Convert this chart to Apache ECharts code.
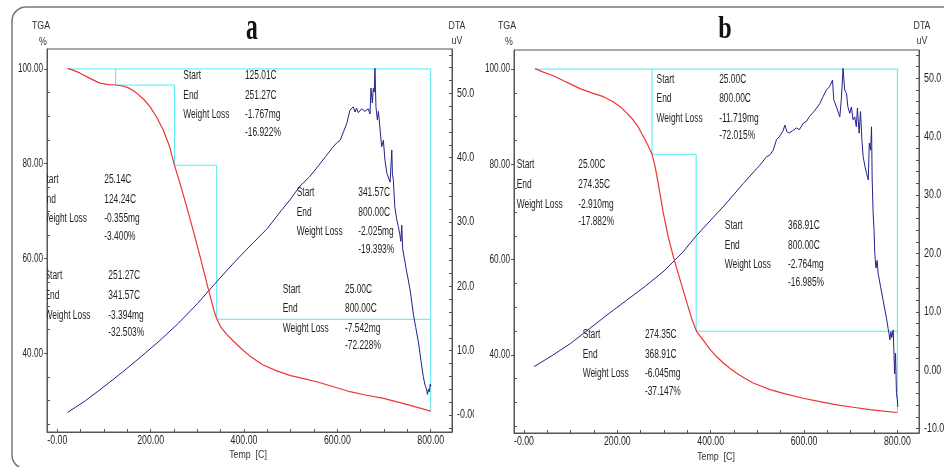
<!DOCTYPE html>
<html>
<head>
<meta charset="utf-8">
<script src="https://cdn.jsdelivr.net/npm/echarts@6/dist/echarts.min.js"></script>
<style>
html,body{margin:0;padding:0;background:#fff;}
#chart{width:944px;height:467px;}
</style>
</head>
<body>
<div id="chart"></div>
<script>
var FONT = '"Liberation Sans", Arial, sans-serif';

// axis ticks / labels
var tempLabels = [0, 200, 400, 600, 800];
var tempTicks = [0, 50, 100, 150, 200, 250, 300, 350, 400, 450, 500, 550, 600, 650, 700, 750, 800];
var tgaLabels = [40, 60, 80, 100];
var tgaMinor = [25, 30, 35, 45, 50, 55, 65, 70, 75, 85, 90, 95];
var dtaLabelsA = [0, 10, 20, 30, 40, 50];
var dtaTicksA = [-2, 0, 2, 4, 6, 8, 10, 12, 14, 16, 18, 20, 22, 24, 26, 28, 30, 32, 34, 36, 38, 40, 42, 44, 46, 48, 50, 52, 54, 56];
var dtaLabelsB = [-10, 0, 10, 20, 30, 40, 50];
var dtaTicksB = [-10, -8, -6, -4, -2, 0, 2, 4, 6, 8, 10, 12, 14, 16, 18, 20, 22, 24, 26, 28, 30, 32, 34, 36, 38, 40, 42, 44, 46, 48, 50, 52, 54];

// sample a : TGA (%) vs temp (C)
var tgaA = [[22,100.1],[35,99.7],[49,99.1],[70,98.0],[91,97.0],[110,96.7],[125,96.6],[140,96.4],[150,96.1],[160,95.6],[170,94.9],[185,93.6],[199,92.0],[213,89.8],[227,87.1],[240,83.8],[251,79.7],[264,75.5],[277,71.0],[291,66.0],[306,60.4],[324,53.4],[337,48.6],[342,47.2],[350,45.6],[362,44.1],[377,42.6],[395,40.9],[413,39.4],[440,37.6],[470,36.3],[500,35.3],[530,34.6],[556,34.0],[590,33.0],[627,31.9],[660,31.2],[699,30.5],[730,29.7],[760,28.9],[800,27.8]];
// sample a : DTA (uV)
var dtaA = [[22,0.4],[60,2.2],[100,4.4],[140,6.7],[180,9.1],[220,11.6],[260,14.3],[300,17.3],[340,20.6],[380,23.8],[420,26.8],[450,29.0],[480,31.8],[500,33.6],[520,35.6],[540,37.0],[560,38.8],[575,40.2],[590,41.6],[600,42.4],[606,42.7],[613,44.0],[620,45.3],[627,47.4],[634,47.9],[638,47.1],[641,47.7],[645,47.0],[648.5,46.9],[652,47.6],[655.6,47.9],[659,47.2],[663,47.1],[666,47.6],[668.3,47.9],[670,46.8],[672,50.8],[675,48.5],[677,50.8],[679,50.2],[680.6,53.9],[682.7,47.9],[685.7,45.9],[688,47.2],[690,46.9],[692,44.0],[695,41.7],[698.6,42.7],[702,39.6],[706,37.6],[709,37.8],[713,36.2],[716.6,41.2],[718,37.5],[720,36.5],[723,32.4],[727,30.5],[730.6,29.3],[734,28.0],[736,27.0],[738,29.5],[740,25.8],[748,22.5],[756,19.4],[763,15.6],[768,13.6],[774,11.2],[779,8.5],[784,6.0],[788,4.6],[791.5,3.9],[793,3.2],[795,4.0],[797,3.6],[799,4.8],[800.5,4.5]];
// sample a : analysis steps (temp, TGA)
var frameA = [[25,100],[800,100],[800,27.78]];
var stepsA = [[125.01,100],[125.01,96.6],[251.27,96.6],[251.27,79.68],[341.57,79.68],[341.57,47.18],[800,47.18]];

// sample b
var tgaB = [[23.5,100.1],[40,99.4],[63,98.6],[90,97.3],[120,95.9],[145,95.0],[170,94.2],[190,93.2],[206,92.1],[220,90.8],[234,89.3],[245,87.8],[256,85.8],[265,84.1],[274.35,82.1],[281,79.5],[289,75.2],[298,70.0],[309,64.8],[320,60.6],[331,56.9],[341,53.6],[350,50.6],[359,47.7],[365,46.1],[370,44.9],[384,43.1],[398,41.2],[412,39.7],[427,38.3],[441,37.2],[455,36.2],[473,35.1],[491,34.1],[509,33.4],[527,32.7],[560,31.8],[598,30.9],[634,30.2],[670,29.5],[705,29.0],[741,28.5],[770,28.2],[800,27.9]];
var dtaB = [[21.4,0.6],[60,2.5],[100,4.6],[140,7.1],[180,9.6],[220,12.0],[260,14.4],[300,17.0],[340,20.2],[370,23.1],[400,25.7],[430,28.3],[470,32.0],[505,35.1],[520,36.6],[526,36.8],[534,37.7],[541,39.5],[548,40.1],[555,41.0],[559,42.0],[563,40.9],[568,40.6],[575,41.0],[584,41.5],[590,41.2],[598,42.3],[605,42.6],[612,43.5],[620,44.2],[627,44.9],[634,45.7],[641,46.9],[648,48.0],[655,48.6],[661,49.7],[663.7,46.3],[669.5,45.1],[676.6,43.4],[680,46.5],[683.6,51.7],[687,48.0],[691,47.4],[694,45.1],[698,44.0],[701.5,45.1],[705,42.9],[708.6,43.4],[712,41.7],[714.4,44.9],[718,40.6],[721,44.3],[724,39.4],[726.6,36.6],[730.6,34.9],[734,33.7],[737.6,32.6],[739.8,38.9],[742.6,37.7],[744.6,41.7],[746,32.6],[748,27.0],[750,24.0],[751.6,20.0],[754,17.5],[756.6,18.8],[758.7,16.6],[764,14.3],[769.4,12.0],[776.7,8.9],[780,7.2],[782,6.3],[784,5.2],[786,6.6],[788,5.6],[791,6.9],[792.5,3.4],[794,-0.6],[796,2.9],[798,-4.0],[800,-5.1],[801,-6.3]];
var frameB = [[25,100],[800,100],[800,27.99]];
var stepsB = [[274.35,100],[274.35,82.118],[368.91,82.118],[368.91,44.971],[800,44.971]];

// analysis result blocks: label column x, value column x, first row y (temp, TGA units)
var rowNames = ['Start', 'End', 'Weight Loss'];
var rowGap = [0, 19.6, 39.2, 56.8];
var annoA = [
  {lx: 270, vx: 402, y: 98.52, values: ['125.01C', '251.27C', '-1.767mg', '-16.922%']},
  {lx: -35, vx: 100.7, y: 76.57, values: ['25.14C', '124.24C', '-0.355mg', '-3.400%']},
  {lx: -27.4, vx: 109.3, y: 56.31, values: ['251.27C', '341.57C', '-3.394mg', '-32.503%']},
  {lx: 512.9, vx: 644.8, y: 73.89, values: ['341.57C', '800.00C', '-2.025mg', '-19.393%']},
  {lx: 482.9, vx: 616.3, y: 53.5, values: ['25.00C', '800.00C', '-7.542mg', '-72.228%']}
];
var annoB = [
  {lx: 284.1, vx: 418.1, y: 97.84, values: ['25.00C', '800.00C', '-11.719mg', '-72.015%']},
  {lx: -15.6, vx: 116.2, y: 79.86, values: ['25.00C', '274.35C', '-2.910mg', '-17.882%']},
  {lx: 430.3, vx: 565.8, y: 67.07, values: ['368.91C', '800.00C', '-2.764mg', '-16.985%']},
  {lx: 125.7, vx: 259.0, y: 44.2, values: ['274.35C', '368.91C', '-6.045mg', '-37.147%']}
];

var AXC = '#555';
var TXT = '#1e1e1e';
var RED = '#ee3535';
var BLUE = '#22228c';
var CYAN = '#4feaf2';

function fmtTemp(v){ return v === 0 ? '-0.00' : v.toFixed(2); }
function fmtTga(v){ return v.toFixed(2); }
function fmtDtaA(v){ return v === 0 ? '-0.00' : v.toFixed(1); }
function fmtDtaB(v){ return v === 0 ? '0.00' : v.toFixed(1); }

// narrow text: the source uses a condensed face, so squeeze Liberation Sans
function txt(s, x, y, size, sx, align){
  return {type: 'text', x: x, y: y, scaleX: sx,
    style: {text: s, fontFamily: FONT, fontSize: size, fill: TXT, align: align || 'left', verticalAlign: 'middle'}};
}
function annoRenderer(blocks){
  return function(params, api){
    var b = blocks[params.dataIndex];
    var p = api.coord([b.lx, b.y]);
    var q = api.coord([b.vx, b.y]);
    var kids = [];
    rowNames.forEach(function(t, i){ kids.push(txt(t, p[0], p[1] + rowGap[i], 12, 0.7)); });
    b.values.forEach(function(t, i){ kids.push(txt(t, q[0], q[1] + rowGap[i], 12, 0.7)); });
    return {type: 'group', children: kids};
  };
}
// tick labels drawn through the axis scale
function tickLabelS(xi, yi, points, kind, fmt){
  return {type: 'custom', xAxisIndex: xi, yAxisIndex: yi, clip: false, silent: true, z: 6,
    data: points, encode: {x: 0, y: 1},
    renderItem: function(params, api){
      var d = points[params.dataIndex];
      var p = api.coord(d);
      if (kind === 'x') return txt(fmt(d[0]), p[0], p[1] + 9, 12, 0.73, 'center');
      if (kind === 'l') return txt(fmt(d[1]), p[0] - 4, p[1], 12, 0.68, 'right');
      return txt(fmt(d[1]), p[0] + 5, p[1], 12, 0.74, 'left');
    }};
}

function xAx(gi, min, max){
  return {
    type: 'value', gridIndex: gi, min: min, max: max,
    axisLine: {onZero: false, lineStyle: {color: AXC}},
    axisTick: {inside: true, length: 3, customValues: tempTicks, lineStyle: {color: AXC}},
    axisLabel: {show: false},
    splitLine: {show: false}
  };
}
function yLeft(gi, min, max){
  return {
    type: 'value', gridIndex: gi, position: 'left', min: min, max: max,
    axisLine: {show: true, onZero: false, lineStyle: {color: AXC}},
    axisTick: {show: true, inside: false, length: 3, customValues: tgaLabels, lineStyle: {color: AXC}},
    axisLabel: {show: false},
    splitLine: {show: false}
  };
}
function yLeftMinor(gi, min, max){
  return {
    type: 'value', gridIndex: gi, position: 'left', min: min, max: max,
    axisLine: {show: false, onZero: false},
    axisTick: {show: true, inside: true, length: 3, customValues: tgaMinor, lineStyle: {color: AXC}},
    axisLabel: {show: false},
    splitLine: {show: false}
  };
}
function yRight(gi, min, max, ticks){
  return {
    type: 'value', gridIndex: gi, position: 'right', min: min, max: max,
    axisLine: {show: true, onZero: false, lineStyle: {color: AXC}},
    axisTick: {show: true, inside: true, length: 3, customValues: ticks, lineStyle: {color: AXC}},
    axisLabel: {show: false},
    splitLine: {show: false}
  };
}
function lineS(data, xi, yi, color, w, z){
  return {type: 'line', xAxisIndex: xi, yAxisIndex: yi, data: data, showSymbol: false, symbol: 'none',
    lineStyle: {color: color, width: w}, z: z, silent: true};
}
function annoS(blocks, xi, yi){
  return {type: 'custom', xAxisIndex: xi, yAxisIndex: yi, clip: true, silent: true, z: 5,
    renderItem: annoRenderer(blocks),
    data: blocks.map(function(b){ return [b.lx, b.y]; }), encode: {x: 0, y: 1}};
}
function label(s, x, y){
  return {type: 'text', x: x, y: y, z: 20, scaleX: 0.8,
    style: {text: s, fontFamily: FONT, fontSize: 11, fill: '#333', align: 'center', verticalAlign: 'middle'}};
}

var xRangeA = [-22, 845.6], xRangeB = [-21.4, 846.3];
var tgaRangeA = [23.4, 104.2], tgaRangeB = [23.6, 104.0];
var dtaRangeA = [-2.64, 56.9], dtaRangeB = [-10.75, 54.85];

function xPts(r){ return tempLabels.map(function(v){ return [v, r[0]]; }); }
function lPts(xr, vals){ return vals.map(function(v){ return [xr[0], v]; }); }
function rPts(xr, vals){ return vals.map(function(v){ return [xr[1], v]; }); }

var chart = echarts.init(document.getElementById('chart'), null, {renderer: 'canvas'});
chart.setOption({
  animation: false,
  backgroundColor: '#fff',
  grid: [
    {left: 47, top: 49, width: 405, height: 383, show: true, borderColor: AXC, borderWidth: 1, backgroundColor: 'transparent'},
    {left: 514, top: 50, width: 405, height: 383, show: true, borderColor: AXC, borderWidth: 1, backgroundColor: 'transparent'}
  ],
  xAxis: [xAx(0, xRangeA[0], xRangeA[1]), xAx(1, xRangeB[0], xRangeB[1])],
  yAxis: [
    yLeft(0, tgaRangeA[0], tgaRangeA[1]), yLeftMinor(0, tgaRangeA[0], tgaRangeA[1]), yRight(0, dtaRangeA[0], dtaRangeA[1], dtaTicksA),
    yLeft(1, tgaRangeB[0], tgaRangeB[1]), yLeftMinor(1, tgaRangeB[0], tgaRangeB[1]), yRight(1, dtaRangeB[0], dtaRangeB[1], dtaTicksB)
  ],
  series: [
    lineS(frameA, 0, 0, CYAN, 1, 1),
    lineS(stepsA, 0, 0, CYAN, 1, 1),
    lineS(dtaA, 0, 2, BLUE, 1, 2),
    lineS(tgaA, 0, 0, RED, 1.2, 3),
    annoS(annoA, 0, 0),
    tickLabelS(0, 0, xPts(tgaRangeA), 'x', fmtTemp),
    tickLabelS(0, 0, lPts(xRangeA, tgaLabels), 'l', fmtTga),
    tickLabelS(0, 2, rPts(xRangeA, dtaLabelsA), 'r', fmtDtaA),
    lineS(frameB, 1, 3, CYAN, 1, 1),
    lineS(stepsB, 1, 3, CYAN, 1, 1),
    lineS(dtaB, 1, 5, BLUE, 1, 2),
    lineS(tgaB, 1, 3, RED, 1.2, 3),
    annoS(annoB, 1, 3),
    tickLabelS(1, 3, xPts(tgaRangeB), 'x', fmtTemp),
    tickLabelS(1, 3, lPts(xRangeB, tgaLabels), 'l', fmtTga),
    tickLabelS(1, 5, rPts(xRangeB, dtaLabelsB), 'r', fmtDtaB)
  ],
  graphic: [
    {type: 'rect', z: 0, shape: {x: 12, y: 7, width: 960, height: 462, r: 14}, style: {fill: 'none', stroke: '#777', lineWidth: 1.5}},
    {type: 'rect', z: 30, shape: {x: 474, y: 403, width: 11, height: 24}, style: {fill: '#fff'}},
    {type: 'text', x: 252, y: 29, scaleX: 0.62, z: 20, style: {text: 'a', fontFamily: '"Liberation Serif", serif', fontWeight: 'bold', fontSize: 38, fill: '#111', align: 'center', verticalAlign: 'middle'}},
    {type: 'text', x: 725, y: 30, scaleX: 0.78, z: 20, style: {text: 'b', fontFamily: '"Liberation Serif", serif', fontWeight: 'bold', fontSize: 31, fill: '#111', align: 'center', verticalAlign: 'middle'}},
    label('TGA', 41, 26), label('%', 43, 41.5),
    label('DTA', 457, 26), label('uV', 457, 41),
    label('TGA', 507, 26), label('%', 509, 41.5),
    label('DTA', 922, 26), label('uV', 922, 41),
    label('Temp  [C]', 248, 455), label('Temp  [C]', 716, 456.5)
  ]
});
</script>
</body>
</html>
